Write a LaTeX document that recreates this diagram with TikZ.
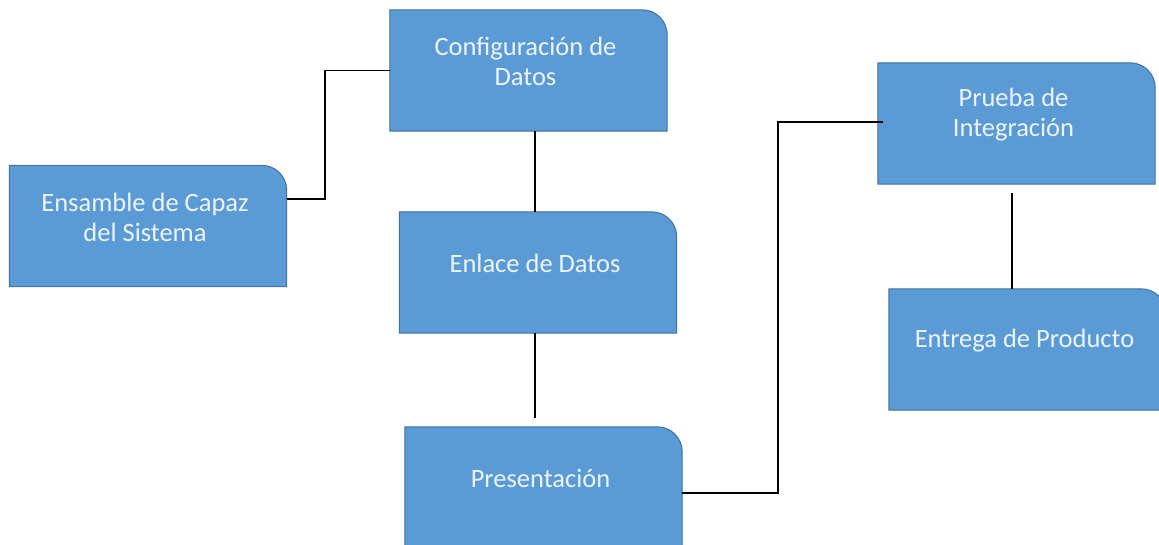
\documentclass[tikz,border=0pt]{standalone}
\usepackage{fontspec}
\setmainfont{Carlito}
\usetikzlibrary{calc}
\definecolor{boxfill}{HTML}{5B9BD5}
\definecolor{boxline}{HTML}{41719C}
\definecolor{boxtext}{HTML}{EEF3FA}
\tikzset{
  boxn/.style={minimum width=277pt, minimum height=121pt, inner sep=0pt, draw=none},
  boxshape/.style={fill=boxfill, draw=boxline, line width=1pt},
  txt/.style={text=boxtext, align=center, font=\fontsize{26.5pt}{30pt}\selectfont, inner sep=0pt},
  conn/.style={draw=black, line width=1.4pt}
}
\newcommand{\mybox}[4]{%
  \node[boxn] (#1) at (#2,#3) {};
  \draw[boxshape] (#1.south west) -- (#1.north west) -- ($(#1.north east)+(-25,0)$)
     arc[start angle=90, end angle=0, radius=25pt] -- (#1.south east) -- cycle;
  \node[txt] (#1t) at ($(#1)+(-3,9)$) {#4};
}
\begin{document}
\begin{tikzpicture}[x=1pt,y=1pt]
\useasboundingbox (0,0) rectangle (1159,-544);
\clip (0,0) rectangle (1159,-544);
\fill[white] (0,0) rectangle (1159,-544);
\mybox{b1}{528.5}{-70.5}{Configuración de\\Datos}
\mybox{b2}{148}{-226}{Ensamble de Capaz\\del Sistema}
\mybox{b3}{538}{-272.5}{Enlace de Datos}
\mybox{b4}{543.5}{-487.5}{Presentación}
\mybox{b5}{1016.5}{-123.5}{Prueba de\\Integración}
\mybox{b6}{1027.5}{-349.5}{Entrega de Producto}
\coordinate (c1) at (325,-199);
\coordinate (l1) at (535,0);
\coordinate (e1) at (535,-418);
\coordinate (c2) at (778,-493);
\coordinate (c3) at (883,-122);
\coordinate (s5) at (1012,-193);
\draw[conn] (b2.east |- c1) -- (c1) |- (b1.west);
\draw[conn] (b1.south -| l1) -- (b3.north -| l1);
\draw[conn] (b3.south -| l1) -- (e1);
\draw[conn] (b4.east |- c2) -- (c2) |- (c3);
\draw[conn] (s5) -- (b6.north -| s5);
\end{tikzpicture}
\end{document}
